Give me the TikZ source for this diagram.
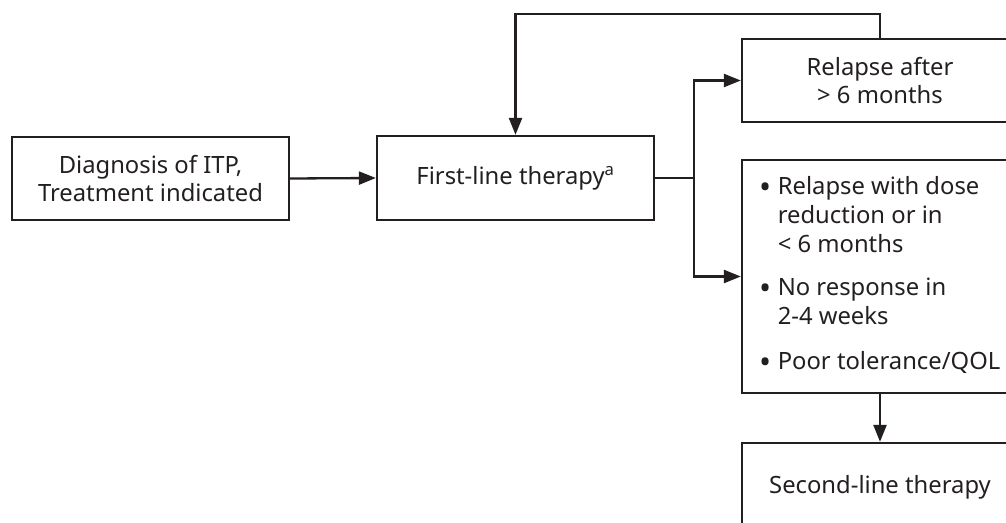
\documentclass[tikz,border=0pt]{standalone}
\usepackage{fontspec}
\setmainfont{Noto Sans}
\usetikzlibrary{arrows.meta}
\definecolor{ink}{HTML}{231F20}
\newcommand{\bul}{\raisebox{-3.5pt}{\scalebox{1.35}{\textbullet}}}
\tikzset{
  box/.style={draw=ink, line width=2.3pt, text=ink, minimum width=277pt, inner sep=0pt, align=center, font=\fontsize{23.8}{28}\selectfont},
  arr/.style={draw=ink, line width=2.3pt, -{Triangle[length=17pt,width=13pt]}},
  ln/.style={draw=ink, line width=2.3pt}
}
\begin{document}
\begin{tikzpicture}[x=1pt,y=-1pt]
\useasboundingbox (0,0) rectangle (1006,522);
\node[box, minimum height=83pt] (diag) at (150.5,178.5) {Diagnosis of ITP,\\Treatment indicated};
\node[box, minimum height=84pt] (first) at (515.5,178) {First-line therapy\textsuperscript{a}};
\node[box, minimum width=276pt, minimum height=83pt] (relapse) at (880,80.5) {Relapse after\\> 6 months};
\node[box, minimum width=276pt, minimum height=233pt, font=\fontsize{23.8}{29}\selectfont] (bullet) at (880,276.5) {%
\raisebox{-2pt}{\begin{tabular}{@{}l@{\hspace{6pt}}l@{}}
\bul & Relapse with dose\\
 & reduction or in\\
 & < 6 months\\[14pt]
\bul & No response in\\
 & 2-4 weeks\\[16pt]
\bul & Poor tolerance/QOL
\end{tabular}}};
\node[box, minimum width=276pt, minimum height=88pt] (second) at (880,487) {Second-line therapy};
\coordinate (split) at (694,178);
\draw[arr] (diag.east) -- (first.west);
\draw[ln] (first.east) -- (split);
\draw[arr] (split) |- (relapse.west);
\draw[arr] (split) |- (bullet.west);
\draw[arr] (relapse.north) -- ++(0,-24) -| (first.north);
\draw[arr] (bullet.south) -- (second.north);
\end{tikzpicture}
\end{document}
